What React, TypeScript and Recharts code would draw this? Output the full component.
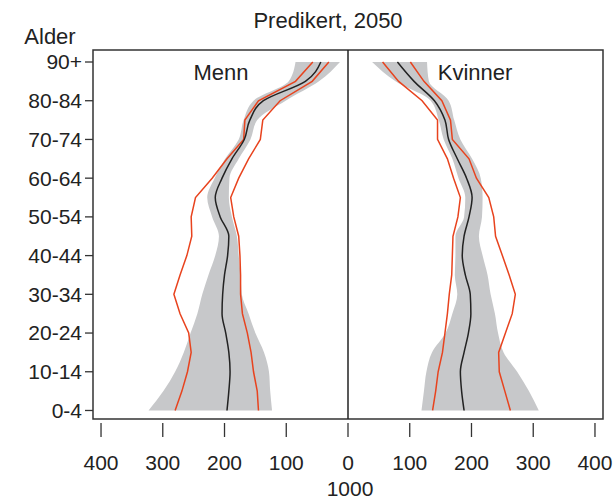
import { ComposedChart, Area, Line, XAxis, YAxis, ReferenceLine, ReferenceArea } from 'recharts'

const ageGroups = ['0-4', '5-9', '10-14', '15-19', '20-24', '25-29', '30-34', '35-39', '40-44', '45-49',
  '50-54', '55-59', '60-64', '65-69', '70-74', '75-79', '80-84', '85-89', '90+']

// Menn (drawn to the left)
const menMedian = [196, 193, 191, 193, 198, 204, 203, 200, 195, 193, 207, 215, 204, 188, 168, 159, 137, 69, 44]
const menRedOuter = [280, 269, 260, 254, 258, 272, 282, 272, 261, 253, 254, 247, 220, 196, 169, 167, 145, 85, 57]
const menRedInner = [145, 147, 153, 157, 163, 171, 174, 174, 175, 177, 185, 190, 177, 161, 142, 138, 110, 58, 31]
const menBandLow = [123, 126, 128, 136, 150, 161, 172, 174, 177, 180, 188, 193, 192, 177, 158, 147, 101, 47, 13]
const menBandHigh = [323, 299, 280, 266, 255, 244, 236, 226, 215, 209, 220, 228, 216, 199, 177, 169, 153, 96, 85]

// Kvinner (drawn to the right)
const womenMedian = [188, 184, 182, 188, 195, 199, 198, 190, 185, 188, 196, 201, 192, 177, 163, 157, 140, 107, 80]
const womenRedInner = [137, 142, 146, 153, 157, 161, 164, 168, 169, 170, 178, 182, 171, 161, 145, 145, 120, 82, 56]
const womenRedOuter = [263, 254, 245, 244, 255, 266, 271, 261, 250, 239, 236, 228, 208, 196, 169, 166, 152, 123, 101]
const womenBandLow = [119, 123, 127, 136, 158, 169, 177, 173, 174, 174, 188, 190, 179, 169, 155, 147, 134, 77, 39]
const womenBandHigh = [309, 293, 274, 252, 243, 238, 231, 226, 218, 212, 217, 218, 215, 201, 182, 172, 163, 131, 128]

const xTicks = [-400, -300, -200, -100, 0, 100, 200, 300, 400]
const yTicks = [0, 2, 4, 6, 8, 10, 12, 14, 16, 18]

const data = ageGroups.map((age, i) => ({
  i,
  age,
  mBand: [-menBandHigh[i], -menBandLow[i]],
  mMid: -menMedian[i],
  mOuter: -menRedOuter[i],
  mInner: -menRedInner[i],
  wBand: [womenBandLow[i], womenBandHigh[i]],
  wMid: womenMedian[i],
  wOuter: womenRedOuter[i],
  wInner: womenRedInner[i],
}))

const FONT = '"Liberation Sans", Arial, sans-serif'
const GRAY = '#c7c8ca'
const RED = '#e8431e'
const INK = '#222'

function XTick(props: any) {
  const { x, y, payload } = props
  return (
    <g>
      <line x1={x} x2={x} y1={y + 4} y2={y + 18} stroke="#333" strokeWidth={1.3} />
      <text x={x} y={y + 43} textAnchor="middle" dominantBaseline="central" fill={INK} fontSize={21} fontFamily={FONT}>
        {Math.abs(payload.value)}
      </text>
    </g>
  )
}

function Label({ x, y, size = 22, children }: { x: number; y: number; size?: number; children: string }) {
  return (
    <div
      style={{
        position: 'absolute',
        left: x,
        top: y,
        transform: 'translate(-50%, -50%)',
        fontFamily: FONT,
        fontSize: size,
        color: INK,
        whiteSpace: 'nowrap',
        lineHeight: 1,
      }}
    >
      {children}
    </div>
  )
}

export default function App() {
  return (
    <div style={{ position: 'absolute', left: 0, top: 0, width: 614, height: 498, overflow: 'hidden', background: '#fff' }}>
      <ComposedChart
        width={614}
        height={498}
        data={data}
        layout="vertical"
        margin={{ top: 50, right: 11, bottom: 19, left: 0 }}
      >
        <XAxis
          type="number"
          domain={[-413, 413]}
          ticks={xTicks}
          allowDataOverflow
          axisLine={false}
          tickLine={false}
          tickSize={0}
          tickMargin={0}
          height={60}
          tick={<XTick />}
          interval={0}
        />
        <YAxis
          type="number"
          dataKey="i"
          domain={[-0.44, 18.62]}
          ticks={yTicks}
          reversed
          allowDataOverflow
          width={93}
          axisLine={false}
          tickSize={8}
          tickMargin={3}
          tickLine={{ stroke: '#333', strokeWidth: 1.3 }}
          tick={{ fill: INK, fontSize: 21, fontFamily: FONT }}
          tickFormatter={(v: number) => ageGroups[v]}
          interval={0}
        />
        <Area dataKey="mBand" type="monotone" fill={GRAY} fillOpacity={1} stroke="none" isAnimationActive={false} />
        <Area dataKey="wBand" type="monotone" fill={GRAY} fillOpacity={1} stroke="none" isAnimationActive={false} />
        <Line dataKey="mOuter" type="linear" stroke={RED} strokeWidth={1.5} dot={false} activeDot={false} isAnimationActive={false} />
        <Line dataKey="mInner" type="linear" stroke={RED} strokeWidth={1.5} dot={false} activeDot={false} isAnimationActive={false} />
        <Line dataKey="wOuter" type="linear" stroke={RED} strokeWidth={1.5} dot={false} activeDot={false} isAnimationActive={false} />
        <Line dataKey="wInner" type="linear" stroke={RED} strokeWidth={1.5} dot={false} activeDot={false} isAnimationActive={false} />
        <Line dataKey="mMid" type="monotone" stroke={INK} strokeWidth={1.5} dot={false} activeDot={false} isAnimationActive={false} />
        <Line dataKey="wMid" type="monotone" stroke={INK} strokeWidth={1.5} dot={false} activeDot={false} isAnimationActive={false} />
        <ReferenceLine x={0} stroke="#222" strokeWidth={1.5} />
        <ReferenceArea x1={-413} x2={413} y1={-0.44} y2={18.62} fill="none" stroke="#333" strokeWidth={1.5} />
      </ComposedChart>
      <Label x={328} y={21} size={22}>Predikert, 2050</Label>
      <Label x={50} y={37}>Alder</Label>
      <Label x={221} y={73}>Menn</Label>
      <Label x={475} y={73}>Kvinner</Label>
      <Label x={350} y={488} size={21}>1000</Label>
    </div>
  )
}
